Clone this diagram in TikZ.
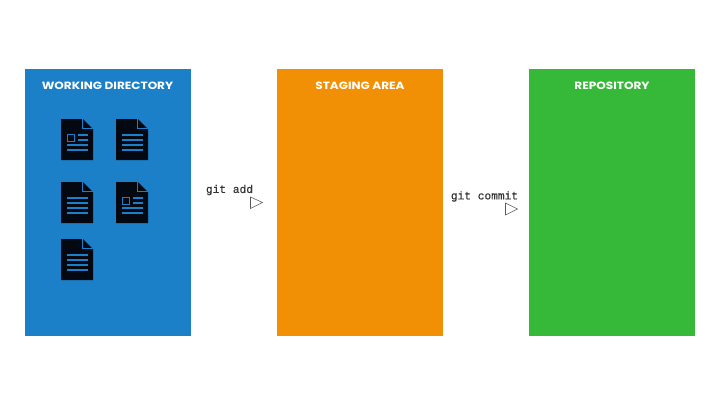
\documentclass[tikz,border=0pt]{standalone}
\usepackage{fontspec}
\setmainfont{Poppins}
\newfontfamily\titlefont[FakeStretch=1.15]{Poppins}
\newfontfamily\codefont[FakeBold=0.35]{Liberation Mono}
\definecolor{wdblue}{HTML}{1B80C7}
\definecolor{saorange}{HTML}{F29005}
\definecolor{rgreen}{HTML}{36B838}
\definecolor{docink}{HTML}{030811}
\tikzset{
  x=1pt,y=-1pt,
  panel/.style={fill=#1,draw=none,minimum width=166pt,minimum height=267pt,inner sep=0pt,anchor=north west},
  paneltitle/.style={text=white,inner sep=0pt,font=\fontsize{10.5}{12}\titlefont\bfseries},
  codelabel/.style={inner sep=0pt,text=black!80,font=\fontsize{11.2}{12}\codefont},
  tri/.style={draw=black!65,fill=white,line width=0.55pt,line join=miter},
  ink/.style={draw=wdblue,line width=2pt},
  textdoc/.pic={
    \fill[docink] (0,0) -- (22,0) -- (32,10) -- (32,41) -- (0,41) -- cycle;
    \draw[wdblue,line width=1pt] (21.5,0) -- (21.5,9.5) -- (32,9.5);
    \foreach \yy in {16,21,26,31} \draw[ink] (6,\yy) -- (27,\yy);
  },
  picdoc/.pic={
    \fill[docink] (0,0) -- (22,0) -- (32,10) -- (32,41) -- (0,41) -- cycle;
    \draw[wdblue,line width=1pt] (21.5,0) -- (21.5,9.5) -- (32,9.5);
    \draw[wdblue,line width=1pt] (6.5,15.5) rectangle (13.5,22.5);
    \draw[ink] (17,16) -- (27,16);
    \draw[ink] (17,21) -- (27,21);
    \draw[ink] (6,26) -- (27,26);
    \draw[ink] (6,31) -- (27,31);
  }
}
\begin{document}
\begin{tikzpicture}
\useasboundingbox (0,0) rectangle (720,405);
\fill[white] (0,0) rectangle (720,405);
\node[panel=wdblue] (wd) at (25,69) {};
\node[panel=saorange] (sa) at (277,69) {};
\node[panel=rgreen] (repo) at (529,69) {};
\node[paneltitle] (t1) at (107.5,85.5) {WORKING DIRECTORY};
\node[paneltitle] (t2) at (360,85.5) {STAGING AREA};
\node[paneltitle] (t3) at (612,85.5) {REPOSITORY};
\pic at (61,119) {picdoc};
\pic at (116,119) {textdoc};
\pic at (61,182) {textdoc};
\pic at (116,182) {picdoc};
\pic at (61,239) {textdoc};
\node[codelabel] (l1) at (229.5,190) {git add};
\node[codelabel] (l2) at (484.5,196.5) {git commit};
\draw[tri] (250.5,197) -- (262.5,202.5) -- (250.5,208.5) -- cycle;
\draw[tri] (505.5,203) -- (517.5,209) -- (505.5,215) -- cycle;
\end{tikzpicture}
\end{document}
